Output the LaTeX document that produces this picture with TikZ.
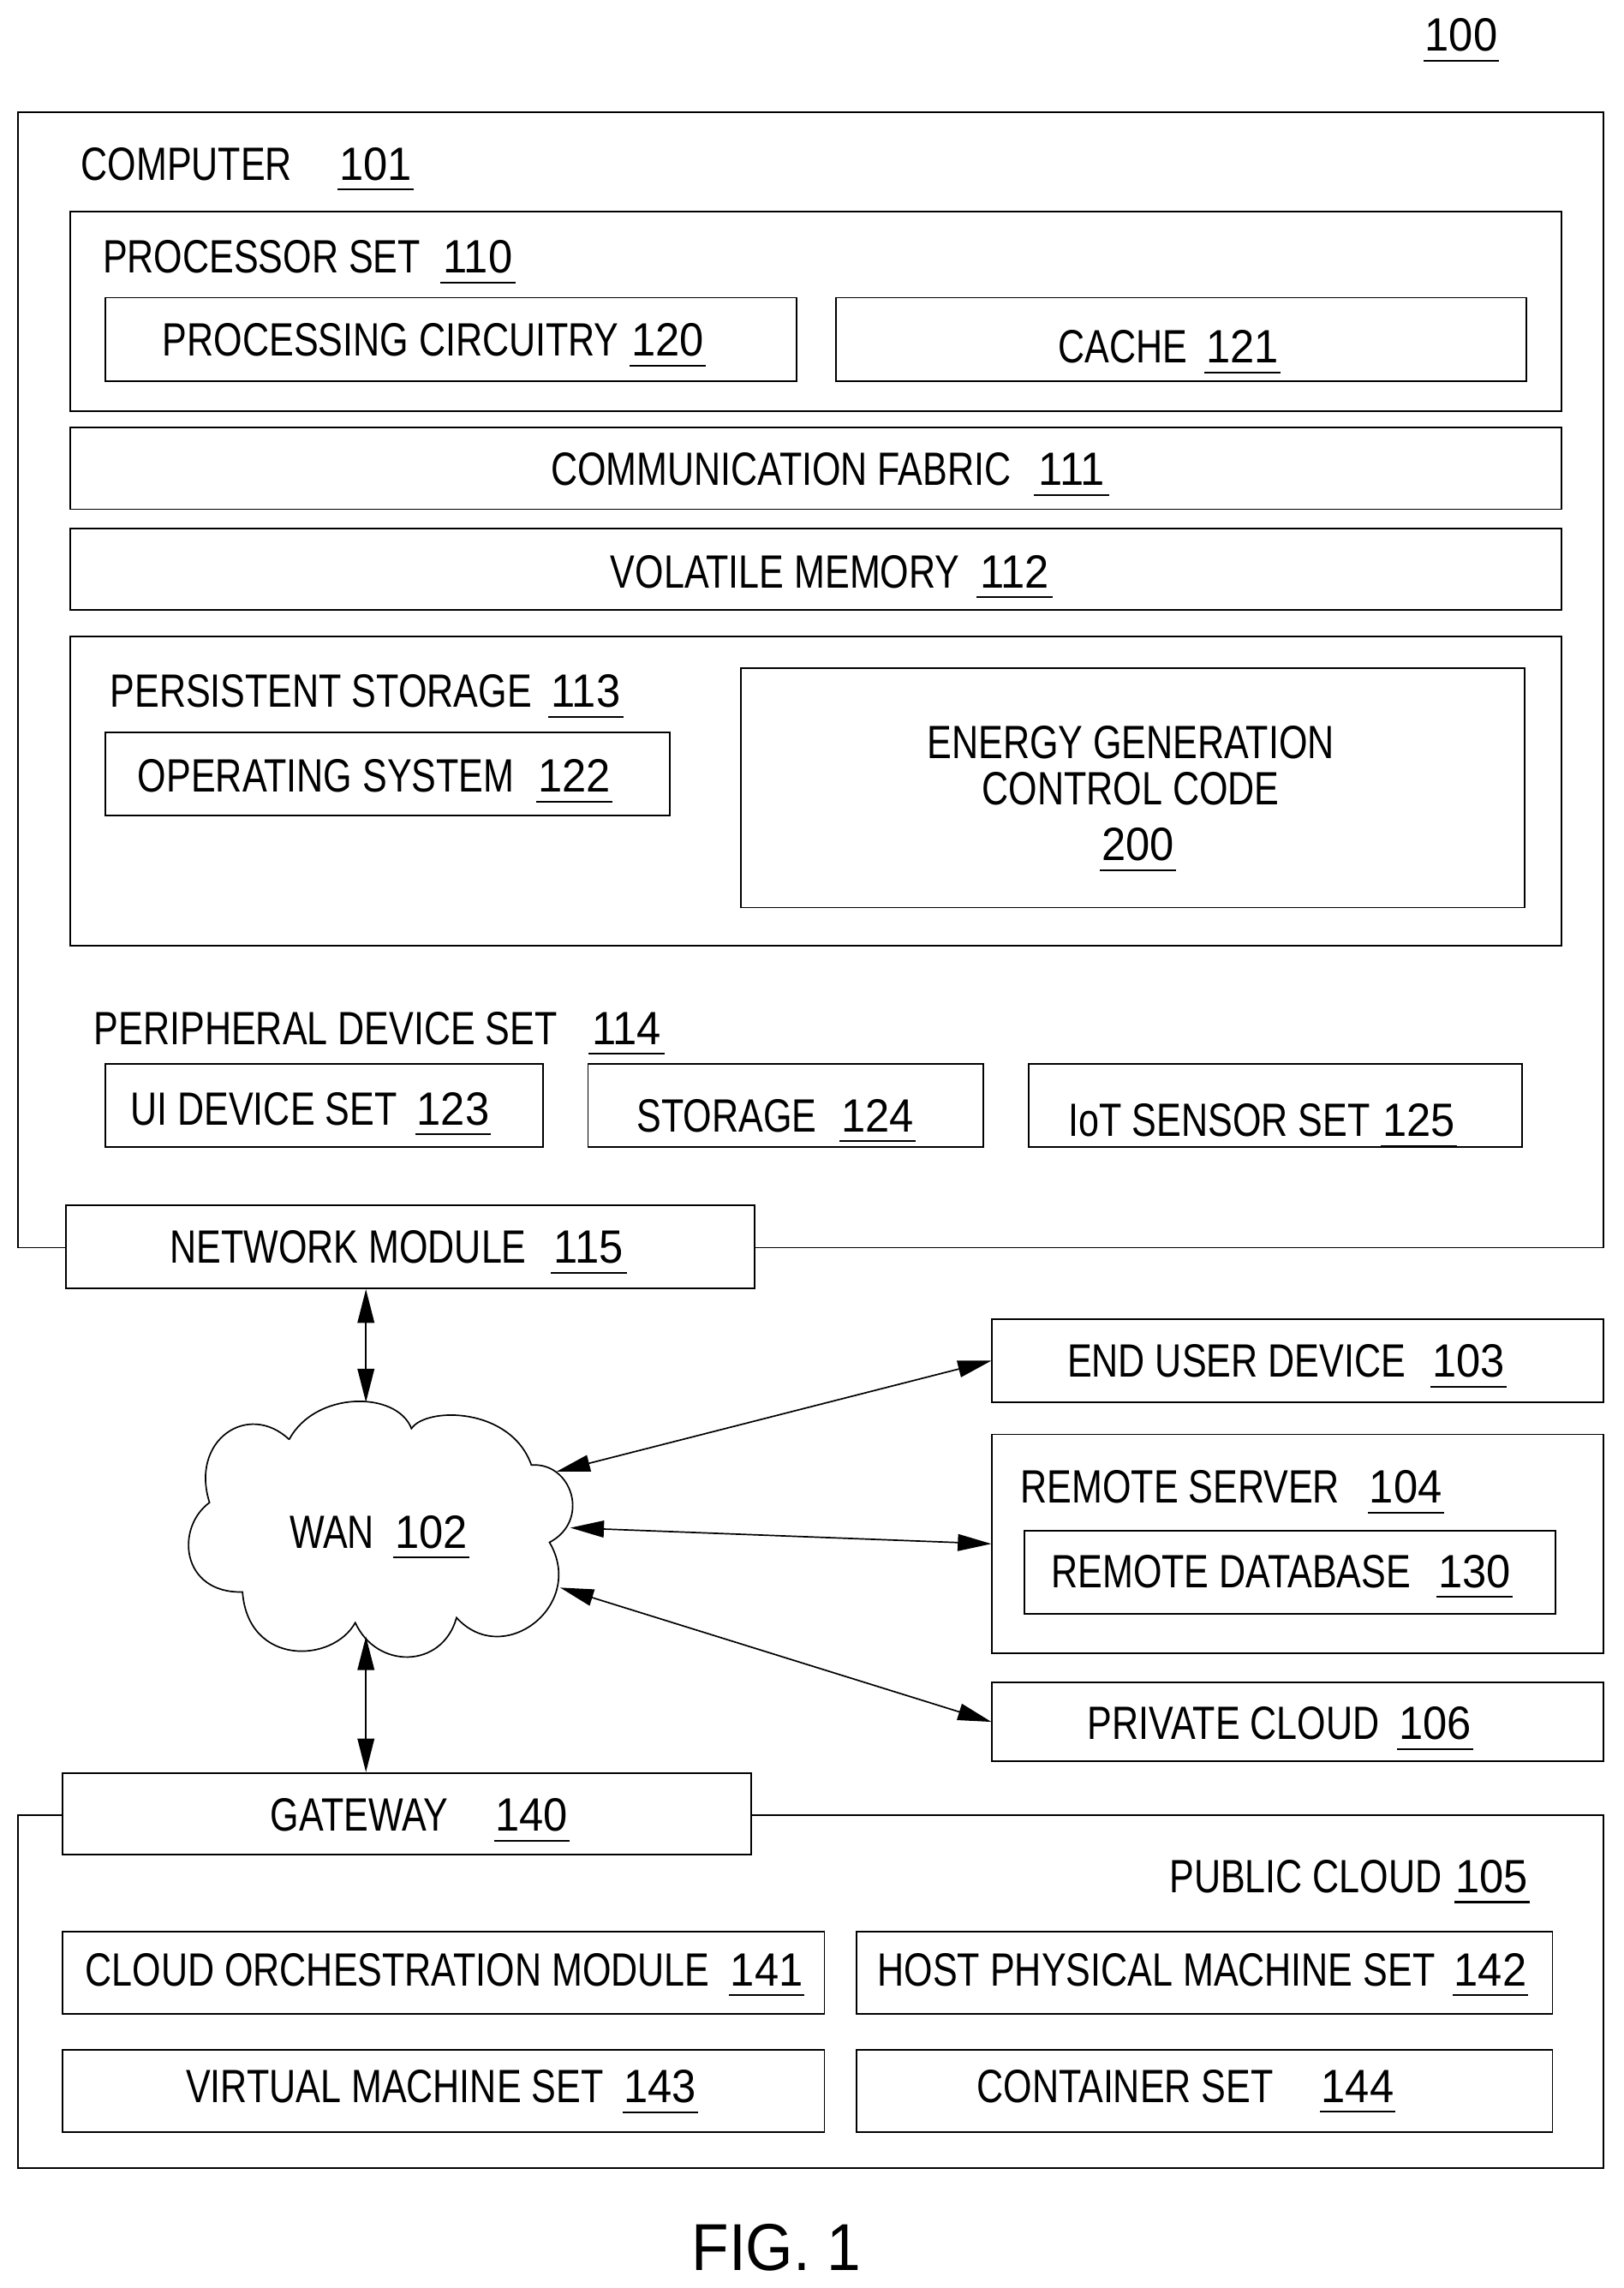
\documentclass[tikz,border=0pt]{standalone}
\usepackage{fontspec}
\usetikzlibrary{arrows.meta,fit}
\setmainfont[FakeStretch=0.79]{Liberation Sans}
\newfontfamily\numfont[FakeStretch=0.93]{Liberation Sans}
\newfontfamily\figfont[FakeStretch=0.92]{Liberation Sans}
\newcommand{\refnum}[1]{\hspace*{-1pt}\vtop{\hbox to 52pt{\hss\numfont #1\hss}\kern 5.8pt\hrule height 1.2pt}}
\tikzset{
        thebox/.style={draw=black,line width=1.1pt,fill=white,inner sep=0pt},
        lbl/.style={anchor=base west,inner sep=0pt,yshift=-0.8pt,font=\fontsize{32}{34}\selectfont}
}

\begin{document}
\begin{tikzpicture}[x=1pt,y=-1pt,>={Triangle[length=23pt,width=11.5pt]},line width=1pt]
        \useasboundingbox (0,0) rectangle (1112.5,1568);

        % draw the boxes
        \foreach \n/\xa/\ya/\xb/\yb in {
            computer/12.5/77/1099/855,
            processor/48/145/1070/282,
            circuitry/72/204/546/261,
            cache/573/204/1046/261,
            fabric/48/293/1070/349,
            volatile/48/362/1070/418,
            persistent/48/436/1070/648,
            opsys/72/502/459/559,
            energy/508/458/1045/622,
            uidevice/72/729/372/786,
            storage/403/729/674/786,
            iot/705/729/1043/786,
            network/45/826/517/883,
            enduser/680/904/1099/961,
            remote/680/983/1099/1133,
            database/702/1049/1066/1106,
            private/680/1153/1099/1207,
            public/12.5/1244/1099/1486,
            gateway/43/1215/515/1271,
            orchestration/43/1324/565/1380,
            host/587/1324/1064/1380,
            virtual/43/1405/565/1461,
            container/587/1405/1064/1461}
                \node[thebox,fit={(\xa,\ya) (\xb,\yb)}] (\n) {};

        % draw the labels, number placed at the given offset
        \foreach \n/\x/\y/\w/\lab/\num in {
            sys/976/34/0//100,
            computer/55/122.5/177/COMPUTER/101,
            processor/70/186/232/PROCESSOR SET/110,
            circuitry/111/243/321/PROCESSING CIRCUITRY/120,
            cache/725/248/101/CACHE/121,
            fabric/377/332/332/COMMUNICATION FABRIC/111,
            volatile/418/402/252/VOLATILE MEMORY/112,
            persistent/75/484/301/PERSISTENT STORAGE/113,
            opsys/94/542/274/OPERATING SYSTEM/122,
            peripheral/64/715/340/PERIPHERAL DEVICE SET/114,
            uidevice/89/770/196/UI DEVICE SET/123,
            storage/436/775/140/STORAGE/124,
            iot/732/778/215/IoT SENSOR SET/125,
            network/116/865/262/NETWORK MODULE/115,
            enduser/731/943/250/END USER DEVICE/103,
            remote/699/1029/239/REMOTE SERVER/104,
            database/720/1087/265/REMOTE DATABASE/130,
            private/745/1191/213/PRIVATE CLOUD/106,
            wan/198/1060/72/WAN/102,
            gateway/185/1254/154/GATEWAY/140,
            public/801/1296/196/PUBLIC CLOUD/105,
            orchestration/58/1360/442/CLOUD ORCHESTRATION MODULE/141,
            host/601/1360/395/HOST PHYSICAL MACHINE SET/142,
            virtual/127/1440/300/VIRTUAL MACHINE SET/143,
            container/669/1440/236/CONTAINER SET/144}
                \node[lbl] (\n-label) at (\x,\y) {\makebox[\w pt][l]{\lab}\refnum{\num}};

        % the code box has three lines
        \node[lbl,anchor=base] (energy-line1) at (775,519) {ENERGY GENERATION};
        \node[lbl,anchor=base] (energy-line2) at (775,551) {CONTROL CODE};
        \node[lbl,anchor=base] (energy-num) at (780.5,589) {\refnum{200}};

        % draw the cloud
        \draw (198.2,986.5)
            .. controls (216,953) and (272,953) .. (282,979)
            .. controls (292,964) and (350,964) .. (364.2,1004)
            .. controls (392,1002) and (405,1042) .. (376.6,1057)
            .. controls (402,1100) and (345,1144) .. (312.9,1108.6)
            .. controls (303,1144) and (258,1144) .. (243.5,1112)
            .. controls (228,1140) and (170,1142) .. (166.2,1091)
            .. controls (124,1092) and (120,1047) .. (143.6,1029.7)
            .. controls (130,987) and (170,960) .. (198.2,986.5);

        % points on the cloud where the arrows end
        \coordinate (wan top) at (250.8,961);
        \coordinate (wan bottom) at (250.8,1121.5);
        \coordinate (wan user) at (381.4,1008.5);
        \coordinate (wan server) at (390.9,1047);
        \coordinate (wan private) at (383.9,1088);

        % draw the arrows
        \draw[<->] (network.south -| wan top) -- (wan top);
        \draw[<->] (wan bottom) -- (gateway.north -| wan bottom);
        \draw[<->] (wan user) -- (enduser.west);
        \draw[<->] (wan server) -- (remote.west);
        \draw[<->] (wan private) -- (private.west);

        \node[anchor=base west,inner sep=0pt,font=\figfont\fontsize{45.5}{48}\selectfont] (figure) at (473.5,1556) {FIG. 1};
\end{tikzpicture}
\end{document}
